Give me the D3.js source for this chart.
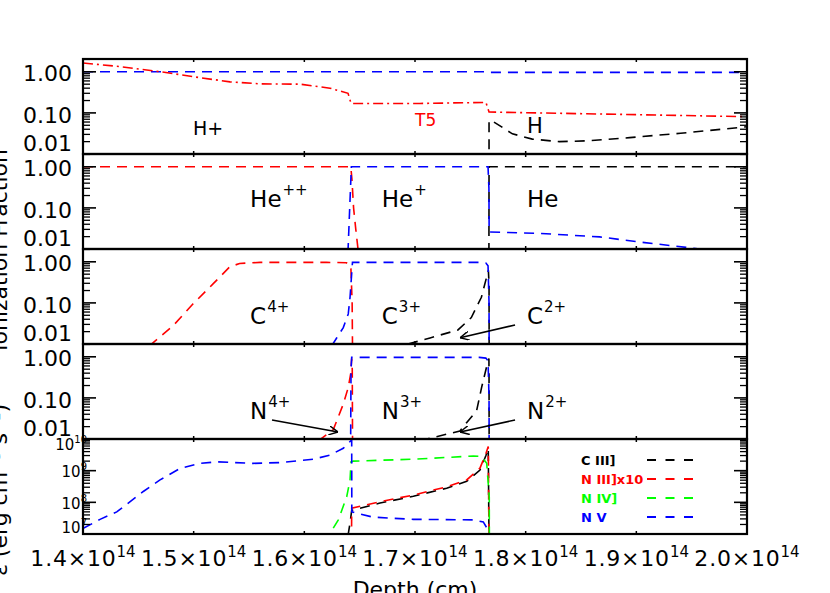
<!DOCTYPE html>
<html>
<head>
<meta charset="utf-8">
<script src="https://cdn.jsdelivr.net/npm/d3@7"></script>
<style>
  body { margin: 0; background: #fff; }
  svg text { font-family: "DejaVu Sans", sans-serif; }
</style>
</head>
<body>
<svg id="chart" width="830" height="593"></svg>
<script>
//////////////////////////////////////////////////////////////////////////////////////////
// DATA (depth in units of 1e14 cm) //////////////////////////////////////////////////////
//////////////////////////////////////////////////////////////////////////////////////////

var depthTicks = [1.4, 1.5, 1.6, 1.7, 1.8, 1.9, 2.0];
var fracTicks = [1.0, 0.1, 0.01];
var fracTickLabels = ["1.00", "0.10", "0.01"];
var emisTicks = [1e10, 1e9, 1e8, 1e7];
var emisTickExp = ["10", "9", "8", "7"];

// hydrogen panel
var hII = [[1.40,1.0],[1.766,1.0],[1.768,0.97],[2.0,0.97]];
var t5 = [[1.400,1.64],[1.4334,1.34],[1.4696,1.01],[1.5057,0.72],[1.5328,0.57],[1.5599,0.51],[1.5961,0.50],
          [1.6232,0.40],[1.6395,0.30],[1.6422,0.17],[1.7045,0.17],[1.7641,0.18],[1.7669,0.105],[1.8672,0.094],[2.0,0.081]];
var hI = [[1.7669,0.005],[1.7669,0.065],[1.7705,0.062],[1.788,0.031],[1.806,0.023],[1.8305,0.020],[1.8575,0.021],
          [1.894,0.025],[1.94,0.032],[2.0,0.046]];

// helium panel
var heIII = [[1.40,1.0],[1.642,1.0],[1.643,0.5],[1.6445,0.1],[1.6465,0.03],[1.6485,0.01],[1.649,0.008]];
var heII = [[1.6394,0.008],[1.641,0.1],[1.6425,1.0],[1.766,1.0],[1.7668,0.3],[1.767,0.026],[1.813,0.024],
            [1.867,0.0197],[1.903,0.0148],[1.9575,0.010],[1.98,0.009]];
var heI = [[1.7668,0.008],[1.7669,1.0],[2.0,1.0]];

// carbon panel
var cV = [[1.46,0.009],[1.4815,0.028],[1.4995,0.095],[1.5175,0.29],[1.5325,0.75],[1.5415,0.91],[1.56,0.97],
          [1.62,0.97],[1.638,0.95],[1.642,0.8],[1.6432,0.1],[1.6436,0.005]];
var cIV = [[1.6247,0.009],[1.6292,0.014],[1.6352,0.025],[1.6397,0.054],[1.6413,0.137],[1.6428,0.52],[1.6435,0.97],
           [1.758,0.97],[1.764,0.93],[1.766,0.8],[1.7669,0.1],[1.767,0.005]];
var cIII = [[1.6937,0.01],[1.7136,0.014],[1.7388,0.022],[1.7509,0.044],[1.76,0.137],[1.7663,0.62],[1.7669,0.3],[1.767,0.005]];

// nitrogen panel
var nV = [[1.6126,0.009],[1.6262,0.017],[1.6352,0.071],[1.6397,0.18],[1.6419,0.39],[1.6428,0.91],[1.6433,0.5],[1.6436,0.005]];
var nIV = [[1.6418,0.005],[1.6422,0.5],[1.6428,0.97],[1.758,0.97],[1.764,0.93],[1.766,0.8],[1.7669,0.1],[1.767,0.005]];
var nIII = [[1.7045,0.009],[1.7151,0.0107],[1.7406,0.0156],[1.7466,0.025],[1.7557,0.049],[1.7602,0.18],[1.7647,0.57],
            [1.7668,0.91],[1.7669,0.3],[1.767,0.005]];

// line emissivities
var emCIII = [[1.6395,9e6],[1.6415,2.5e7],[1.6428,5.6e7],[1.6684,9.5e7],[1.6985,1.55e8],[1.7286,2.8e8],[1.7467,4.6e8],
              [1.7587,1.05e9],[1.7641,3.0e9],[1.7662,5.0e9],[1.7669,5e6]];
var emNIII = [[1.6426,5e6],[1.6428,6.5e7],[1.6684,1.05e8],[1.6985,1.7e8],[1.7286,3.1e8],[1.7467,5.1e8],[1.7587,1.2e9],
              [1.7641,3.5e9],[1.7662,5.8e9],[1.7669,5e6]];
var emNIV = [[1.62,5e6],[1.6232,1.05e7],[1.6307,2.8e7],[1.6383,1.5e8],[1.6413,5.1e8],[1.6422,1.9e9],[1.6442,2.0e9],
             [1.6985,2.3e9],[1.7527,2.9e9],[1.7603,2.8e9],[1.7648,1.7e9],[1.7671,1.5e8],[1.7672,5e6]];
var emNV = [[1.4003,1.51e7],[1.4154,2.9e7],[1.4305,5.0e7],[1.4545,2.2e8],[1.4696,5.1e8],[1.4876,1.18e9],[1.5057,1.7e9],
            [1.5208,1.9e9],[1.5536,1.7e9],[1.578,1.8e9],[1.6081,2.3e9],[1.6232,3.1e9],[1.6352,5.1e9],[1.6428,9.4e9],
            [1.6429,5.0e7],[1.6473,4.5e7],[1.6623,3.4e7],[1.6985,2.9e7],[1.7527,2.8e7],[1.7617,2.4e7],[1.7662,1.3e7],[1.7669,5e6]];

var legendNames = ["C III]", "N III]x10", "N IV]", "N V"];
var legendColors = ["black", "red", "#00ff00", "blue"];

//////////////////////////////////////////////////////////////////////////////////////////
// LAYOUT ////////////////////////////////////////////////////////////////////////////////
//////////////////////////////////////////////////////////////////////////////////////////

var svg = d3.select("#chart");
var left = 83, right = 747, top0 = 59, panelH = 95;
var x = d3.scaleLinear().domain([1.4, 2.0]).range([left, right]);

// label x is the depth where the text starts, y is the baseline below the panel top
var panels = [
  { kind: "frac", lines: [ {d: hII, c: "blue"}, {d: t5, c: "red", dash: "10,4,2,4"}, {d: hI, c: "black"} ],
    labels: [ {t: "H+", x: 1.4994, y: 76, s: 19}, {t: "T5", x: 1.7, y: 67, s: 17, c: "red"}, {t: "H", x: 1.8012, y: 74, s: 21} ] },
  { kind: "frac", lines: [ {d: heI, c: "black"}, {d: heIII, c: "red"}, {d: heII, c: "blue"} ],
    labels: [ {t: "He", sup: "++", x: 1.551, y: 53}, {t: "He", sup: "+", x: 1.67, y: 53}, {t: "He", x: 1.8012, y: 53} ] },
  { kind: "frac", lines: [ {d: cIII, c: "black"}, {d: cV, c: "red"}, {d: cIV, c: "blue"} ],
    labels: [ {t: "C", sup: "4+", x: 1.551, y: 75}, {t: "C", sup: "3+", x: 1.67, y: 75}, {t: "C", sup: "2+", x: 1.8012, y: 75} ],
    arrows: [ [[1.7904,0.029],[1.7407,0.0142]] ] },
  { kind: "frac", lines: [ {d: nIII, c: "black"}, {d: nV, c: "red"}, {d: nIV, c: "blue"} ],
    labels: [ {t: "N", sup: "4+", x: 1.551, y: 75}, {t: "N", sup: "3+", x: 1.67, y: 75}, {t: "N", sup: "2+", x: 1.8012, y: 75} ],
    arrows: [ [[1.5708,0.029],[1.6304,0.0148]], [[1.7904,0.029],[1.7407,0.0148]] ] },
  { kind: "emis", lines: [ {d: emCIII, c: "black"}, {d: emNIII, c: "red"}, {d: emNIV, c: "#00ff00"}, {d: emNV, c: "blue"} ] }
];

// arrowhead marker
svg.append("defs").append("marker")
  .attr("id", "arrowhead").attr("viewBox", "0 0 10 10").attr("refX", 10).attr("refY", 5)
  .attr("markerWidth", 9).attr("markerHeight", 9).attr("markerUnits", "userSpaceOnUse").attr("orient", "auto")
  .append("path").attr("d", "M0,0 L10,5 L0,10").attr("fill", "none").attr("stroke", "black").attr("stroke-width", 1.6);

panels.forEach(function(p, i) {
  var top = top0 + i * panelH, bottom = top + panelH;
  var y = p.kind == "frac"
    ? d3.scaleLog().domain([0.01, 2.05]).range([bottom, top])
    : d3.scaleLog().domain([1e7, 1e10]).range([bottom, top]);
  var g = svg.append("g");

  g.append("clipPath").attr("id", "clip" + i).append("rect")
    .attr("x", left).attr("y", top).attr("width", right - left).attr("height", panelH);

  var line = d3.line().x(function(d) { return x(d[0]); }).y(function(d) { return y(d[1]); });
  var plot = g.append("g").attr("clip-path", "url(#clip" + i + ")");
  p.lines.forEach(function(l) {
    plot.append("path").attr("d", line(l.d)).attr("fill", "none")
      .attr("stroke", l.c).attr("stroke-width", 1.6)
      .attr("stroke-dasharray", l.dash || "10,7");
  });

  // ion labels
  (p.labels || []).forEach(function(lb) {
    var t = g.append("text").attr("x", x(lb.x)).attr("y", top + lb.y)
      .attr("font-size", lb.s || 23).attr("fill", lb.c || "black");
    t.append("tspan").text(lb.t);
    if (lb.sup) t.append("tspan").attr("dy", -12).attr("dx", 1).attr("font-size", 15).text(lb.sup);
  });

  (p.arrows || []).forEach(function(a) {
    g.append("line").attr("x1", x(a[0][0])).attr("y1", y(a[0][1])).attr("x2", x(a[1][0])).attr("y2", y(a[1][1]))
      .attr("stroke", "black").attr("stroke-width", 1.6).attr("marker-end", "url(#arrowhead)");
  });

  g.append("rect").attr("x", left).attr("y", top).attr("width", right - left).attr("height", panelH)
    .attr("fill", "none").attr("stroke", "black").attr("stroke-width", 2.2);

  // y ticks, both sides, pointing inward
  var major = p.kind == "frac" ? fracTicks : emisTicks;
  var minor = [];
  var lo = p.kind == "frac" ? -2 : 7, hi = p.kind == "frac" ? 0 : 10;
  for (var e = lo; e <= hi; e++) for (var k = 2; k <= 9; k++) {
    var v = k * Math.pow(10, e);
    if (v <= y.domain()[1]) minor.push(v);
  }
  major.forEach(function(v) {
    g.append("line").attr("x1", left).attr("x2", left + 13).attr("y1", y(v)).attr("y2", y(v)).attr("stroke", "black").attr("stroke-width", 1.6);
    g.append("line").attr("x1", right).attr("x2", right - 13).attr("y1", y(v)).attr("y2", y(v)).attr("stroke", "black").attr("stroke-width", 1.6);
  });
  minor.forEach(function(v) {
    g.append("line").attr("x1", left).attr("x2", left + 7).attr("y1", y(v)).attr("y2", y(v)).attr("stroke", "black").attr("stroke-width", 1.3);
    g.append("line").attr("x1", right).attr("x2", right - 7).attr("y1", y(v)).attr("y2", y(v)).attr("stroke", "black").attr("stroke-width", 1.3);
  });

  // x ticks, tiny, top and bottom of each panel
  depthTicks.forEach(function(t) {
    g.append("line").attr("x1", x(t)).attr("x2", x(t)).attr("y1", top).attr("y2", top + 3).attr("stroke", "black").attr("stroke-width", 1.5);
    g.append("line").attr("x1", x(t)).attr("x2", x(t)).attr("y1", bottom).attr("y2", bottom - 3).attr("stroke", "black").attr("stroke-width", 1.5);
  });

  // tick labels
  if (p.kind == "frac") {
    fracTicks.forEach(function(v, j) {
      var off = j == 2 ? -11 : (j == 1 ? 2 : 1);
      g.append("text").attr("x", 72).attr("y", y(v) + off).attr("dy", "0.36em")
        .attr("text-anchor", "end").attr("font-size", 22).text(fracTickLabels[j]);
    });
  } else {
    emisTicks.forEach(function(v, j) {
      var off = j == 0 ? 6 : (j == 3 ? -6 : 1);
      var t = g.append("text").attr("x", 87).attr("y", y(v) + off).attr("dy", "0.36em")
        .attr("text-anchor", "end").attr("font-size", 15);
      t.append("tspan").text("10");
      t.append("tspan").attr("dy", -7).attr("font-size", 10).text(emisTickExp[j]);
    });
  }
});

// depth axis labels
depthTicks.forEach(function(t) {
  var tx = svg.append("text").attr("x", x(t)).attr("y", 566).attr("text-anchor", "middle")
    .attr("font-size", 22).attr("letter-spacing", 0.8);
  tx.append("tspan").text(t.toFixed(1) + "\u00d710");
  tx.append("tspan").attr("dy", -9).attr("font-size", 15).attr("letter-spacing", 0).text("14");
});
svg.append("text").attr("x", 415).attr("y", 597).attr("text-anchor", "middle").attr("font-size", 22).text("Depth (cm)");

// left titles, mostly off the page as in the original
svg.append("text").attr("transform", "translate(7,250) rotate(-90)").attr("text-anchor", "middle")
  .attr("font-size", 22).text("Ionization Fraction");
svg.append("text").attr("transform", "translate(7,490) rotate(-90)").attr("text-anchor", "middle")
  .attr("font-size", 22).text("\u03b5 (erg cm\u207b\u00b3 s\u207b\u00b9)");

// legend
legendNames.forEach(function(n, j) {
  var ly = 460 + j * 19;
  svg.append("text").attr("x", 581).attr("y", ly).attr("dy", "0.36em").attr("font-size", 13)
    .attr("font-weight", "bold").attr("fill", legendColors[j]).text(n);
  svg.append("line").attr("x1", 647).attr("x2", 693).attr("y1", ly).attr("y2", ly)
    .attr("stroke", legendColors[j]).attr("stroke-width", 1.8).attr("stroke-dasharray", "9,9.5");
});
</script>
</body>
</html>
